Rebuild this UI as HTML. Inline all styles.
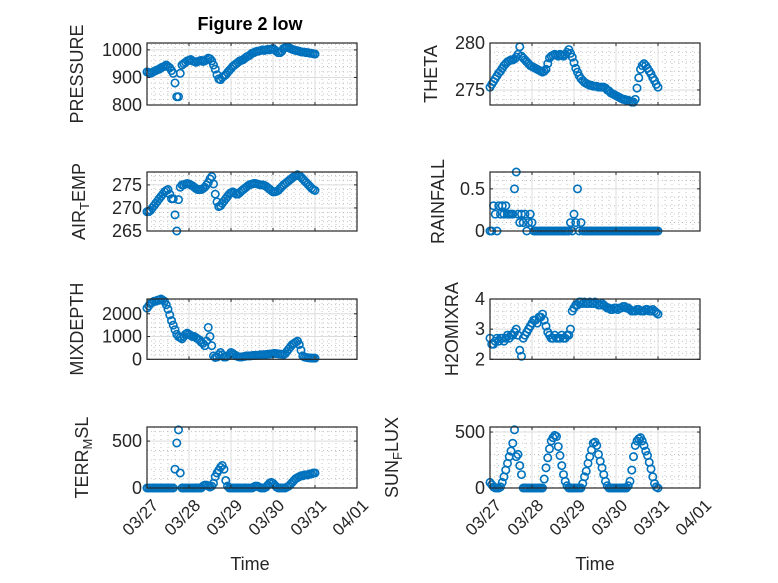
<!DOCTYPE html>
<html><head><meta charset="utf-8"><style>
html,body{margin:0;padding:0;background:#fff}
svg{display:block;font-family:"Liberation Sans",sans-serif}
</style></head><body>
<svg id="fig" width="778" height="583" viewBox="0 0 778 583" xmlns="http://www.w3.org/2000/svg">
<rect width="778" height="583" fill="#fff"/>
<text x="250" y="30" text-anchor="middle" font-size="18" font-weight="bold" fill="#000">Figure 2 low</text>
</svg>
<script>
const dayLabels = ["03/27","03/28","03/29","03/30","03/31","04/01"];
const hours = Array.from({length:97}, (_, i) => i);
const pressure = [920,918,915,918,922,925,928,930,935,938,940,945,940,
935,925,915,880,830,830,915,
945,950,955,960,962,
965,960,958,955,958,960,962,958,960,965,970,968,
960,945,930,910,895,892,
900,905,910,918,925,932,940,945,950,955,960,
962,965,970,975,978,982,988,990,993,995,996,998,1000,
998,1000,1002,1000,1003,1005,
1000,995,990,990,995,1005,1008,
1010,1008,1005,1002,1000,998,997,995,993,992,992,990,990,988,988,986,985];
const theta = [275.3,275.6,275.9,276.2,276.5,276.8,277.0,277.3,277.6,277.8,278.0,278.1,278.2,278.2,278.3,278.5,278.8,279.6,
278.6,278.4,278.2,278.0,277.8,277.6,277.5,277.4,277.3,277.2,277.1,277.0,276.9,277.0,277.2,
277.8,278.4,278.6,278.7,278.8,278.7,278.6,278.8,278.7,278.6,278.8,279.0,279.3,
278.9,278.5,277.9,277.3,276.9,276.5,276.2,276.0,275.8,275.7,275.6,275.5,275.5,
275.4,275.4,275.4,275.3,275.3,275.3,275.3,275.2,
275.0,274.9,274.7,274.6,274.5,274.4,274.3,274.2,274.1,274.0,274.0,273.9,273.9,273.8,273.7,273.7,
274.0,275.2,276.3,277.2,277.6,277.8,277.6,277.3,277.0,276.7,276.3,276.0,275.6,275.3];
const airTemp = [269.2,269.2,269.5,270,270.5,271,271.5,272,272.5,273,273.5,273.8,
274,273,272,272,268.5,265,271.8,274.5,
275,275,275.2,275.3,275.2,275,274.8,274.5,
274.2,274,274,274,274.2,274.5,275,275.5,
276.3,276.8,275.2,273,271.3,270.3,270.5,
271,271.5,272,272.5,273,273.3,273.5,273.3,273,273,273.3,273.7,274,274.3,274.6,274.9,275.1,275.2,
275.3,275.3,275.2,275.1,275,275,274.9,274.7,274.4,274.1,273.8,
273.5,273.5,273.6,273.8,274.2,274.6,275,275.3,
275.6,275.9,276.2,276.5,276.8,277,277.2,277,276.7,
276.3,275.9,275.5,275.1,274.7,274.3,274,273.8];
const rainfall = [0,0,0.3,0.2,0,0.3,0.2,0.3,0.2,0.3,0.2,0.2,0.2,0.2,0.5,0.7,0.2,0.1,0.2,0.1,0.2,0,0.1,0.2,0.1,
0,0,0,0,0,0,0,0,0,0,0,0,0,0,0,0,0,0,0,0,0,
0.1,0,0.2,0.1,0.5,0,0.1,0,
0,0,0,0,0,0,0,0,0,0,0,0,0,0,0,0,0,0,0,0,0,0,0,0,0,0,0,0,0,0,0,0,0,0,0,0,0,0,0,0,0,0,0];
const mixDepth = [2250,2350,2450,2500,2550,2550,2600,2600,2650,2600,2550,
2400,2200,1950,1700,1500,1300,1100,1000,950,
900,1000,1100,1150,1100,1050,1000,1000,950,
900,850,750,700,600,800,1400,1000,600,
150,80,100,200,300,200,100,100,150,200,300,
250,200,150,120,100,100,120,130,150,150,150,160,170,170,180,180,
200,200,200,210,220,230,240,250,260,250,240,230,220,200,
250,350,450,550,650,700,750,800,650,400,
150,100,80,70,60,50,50,50];
const h2oMix = [2.7,2.5,2.5,2.6,2.7,2.6,2.7,2.7,2.6,2.7,2.8,
2.7,2.8,2.8,2.9,3.0,2.8,2.3,2.1,2.7,
2.8,2.9,3.0,3.1,3.2,3.3,3.3,3.2,3.4,3.4,3.5,
3.3,3.1,2.9,2.8,2.7,2.7,2.8,2.7,2.7,2.7,2.8,2.7,2.7,2.8,2.8,
3.0,3.6,3.7,3.8,3.8,3.9,3.9,3.85,3.9,3.85,3.85,3.9,3.85,3.85,3.9,
3.85,3.8,3.8,3.85,3.8,3.75,3.7,3.7,3.65,3.65,3.7,3.7,3.65,3.7,3.7,3.75,
3.75,3.7,3.7,3.65,3.6,3.6,3.6,3.65,3.65,3.6,3.6,3.6,3.65,3.65,3.6,3.6,3.65,3.6,3.55,3.5];
const terrMsl = [0,0,0,0,0,0,0,0,0,0,0,0,0,0,0,0,
200,480,620,160,
0,0,0,0,0,0,0,0,0,0,0,0,
20,30,30,20,10,20,50,
120,160,190,220,240,200,80,20,
0,0,0,0,0,0,0,0,0,0,0,0,0,0,10,20,20,10,0,0,0,10,30,50,
60,50,30,10,0,0,0,0,0,10,20,40,60,80,100,110,120,130,130,140,140,140,150,150,160,160];
const sunFlux = [50,30,10,0,0,0,10,
50,100,160,220,280,330,400,520,280,300,200,120,0,
0,0,0,0,0,0,0,0,0,0,0,80,
180,270,350,420,450,470,460,370,290,200,120,60,20,0,
0,0,0,0,0,0,0,40,
100,150,220,280,340,400,410,380,300,240,180,120,60,20,0,0,
0,0,0,0,0,0,0,0,0,20,60,
160,280,380,420,440,450,420,380,330,290,230,170,100,40,10,0];

const pressureTicks = [800,900,1000];
const thetaTicks = [275,280];
const airTempTicks = [265,270,275];
const rainTicks = [0,0.5];
const mixTicks = [0,1000,2000];
const h2oTicks = [2,3,4];
const terrTicks = [0,500];
const sunTicks = [0,500];

const NS = "http://www.w3.org/2000/svg";
const svg = document.getElementById('fig');
function mk(tag, attrs, parent){
  const e = document.createElementNS(NS, tag);
  for (const k in attrs) e.setAttribute(k, attrs[k]);
  (parent||svg).appendChild(e);
  return e;
}
const cols = [{x0:147,x1:357},{x0:490,x1:700}];
const rows = [{y0:43,y1:105},{y0:172,y1:231},{y0:299,y1:359.3},{y0:427,y1:488}];
const totalHours = 120;

function panel(name, col, row, series, ylim, ticks, minorStep, yfmt, labelParts, labelX, showX){
  const c = cols[col], r = rows[row];
  const g = mk('g', {});
  
  
  const xs = h => c.x0 + (h / totalHours) * (c.x1 - c.x0);
  const ys = v => r.y1 - (v - ylim[0]) / (ylim[1] - ylim[0]) * (r.y1 - r.y0);
  mk('rect', {x:c.x0, y:r.y0, width:c.x1-c.x0, height:r.y1-r.y0, fill:'#fff'}, g);
  for (let h = 4; h < totalHours; h += 4) {
    if (h % 24 === 0) continue;
    mk('line', {x1:xs(h), x2:xs(h), y1:r.y0, y2:r.y1, stroke:'#b8b8b8', 'stroke-width':0.8, 'stroke-dasharray':'1,3'}, g);
  }
  for (let v = Math.ceil(ylim[0]/minorStep)*minorStep; v < ylim[1]; v += minorStep) {
    if (ticks.some(t => Math.abs(t - v) < 1e-9)) continue;
    mk('line', {x1:c.x0, x2:c.x1, y1:ys(v), y2:ys(v), stroke:'#b8b8b8', 'stroke-width':0.8, 'stroke-dasharray':'1,3'}, g);
  }
  for (let d = 1; d < dayLabels.length - 1; d++) {
    mk('line', {x1:xs(d*24), x2:xs(d*24), y1:r.y0, y2:r.y1, stroke:'#dcdcdc', 'stroke-width':1}, g);
  }
  ticks.forEach(t => {
    if (t > ylim[0] && t < ylim[1]) mk('line', {x1:c.x0, x2:c.x1, y1:ys(t), y2:ys(t), stroke:'#dcdcdc', 'stroke-width':1}, g);
  });
  const sg = mk('g', {}, g);
  
  
  series.forEach((v, i) => {
    const m = mk('circle', {cx:xs(hours[i]), cy:ys(v), r:3.7, fill:'none', stroke:'#0072BD', 'stroke-width':1.6}, sg);
    
    
  });
  mk('rect', {x:c.x0, y:r.y0, width:c.x1-c.x0, height:r.y1-r.y0, fill:'none', stroke:'#262626', 'stroke-width':1.2}, g);
  for (let d = 0; d < dayLabels.length; d++) {
    const x = xs(d*24);
    mk('line', {x1:x, x2:x, y1:r.y1, y2:r.y1-3, stroke:'#262626'}, g);
    mk('line', {x1:x, x2:x, y1:r.y0, y2:r.y0+3, stroke:'#262626'}, g);
    if (showX) {
      const t = mk('text', {x:x+4, y:r.y1+10, 'text-anchor':'end', 'font-size':17, fill:'#262626', transform:`rotate(-45 ${x+4} ${r.y1+10})`, 'dominant-baseline':'hanging'}, g);
      t.textContent = dayLabels[d];
      
      
    }
  }
  ticks.forEach(tv => {
    const y = ys(tv);
    mk('line', {x1:c.x0, x2:c.x0+3, y1:y, y2:y, stroke:'#262626'}, g);
    mk('line', {x1:c.x1, x2:c.x1-3, y1:y, y2:y, stroke:'#262626'}, g);
    const t = mk('text', {x:c.x0-5, y:y+6, 'text-anchor':'end', 'font-size':18, fill:'#262626'}, g);
    t.textContent = yfmt(tv);
    
    
  });
  const cy = (r.y0 + r.y1) / 2;
  const lab = mk('text', {x:labelX, y:cy, 'text-anchor':'middle', 'font-size':18, fill:'#262626', transform:`rotate(-90 ${labelX} ${cy})`}, g);
  
  
  labelParts.forEach(p => {
    const ts = mk('tspan', {}, lab);
    if (p.sub) { ts.setAttribute('baseline-shift', '-30%'); ts.setAttribute('font-size', '13'); }
    ts.textContent = p.t;
  });
  if (showX) {
    const tt = mk('text', {x:(c.x0+c.x1)/2 - (col===0?2:0), y:570, 'text-anchor':'middle', 'font-size':18, fill:'#262626'}, g);
    tt.textContent = 'Time';
    
    
  }
}
const f0 = v => String(v);
panel('pressure', 0, 0, pressure, [800,1025], pressureTicks, 20, f0, [{t:'PRESSURE'}], 83, false);
panel('theta', 1, 0, theta, [273.4,280], thetaTicks, 1, f0, [{t:'THETA'}], 437, false);
panel('air-temp', 0, 1, airTemp, [265,277.8], airTempTicks, 1, f0, [{t:'AIR'},{t:'T',sub:true},{t:'EMP'}], 85, false);
panel('rainfall', 1, 1, rainfall, [0,0.7], rainTicks, 0.1, f0, [{t:'RAINFALL'}], 444, false);
panel('mixdepth', 0, 2, mixDepth, [0,2650], mixTicks, 200, f0, [{t:'MIXDEPTH'}], 83, false);
panel('h2omixra', 1, 2, h2oMix, [2,4], h2oTicks, 0.2, f0, [{t:'H2OMIXRA'}], 458, false);
panel('terr-msl', 0, 3, terrMsl, [0,650], terrTicks, 100, f0, [{t:'TERR'},{t:'M',sub:true},{t:'SL'}], 88, true);
panel('sun-flux', 1, 3, sunFlux, [0,545], sunTicks, 100, f0, [{t:'SUN'},{t:'F',sub:true},{t:'LUX'}], 398, true);
</script>
</body></html>
